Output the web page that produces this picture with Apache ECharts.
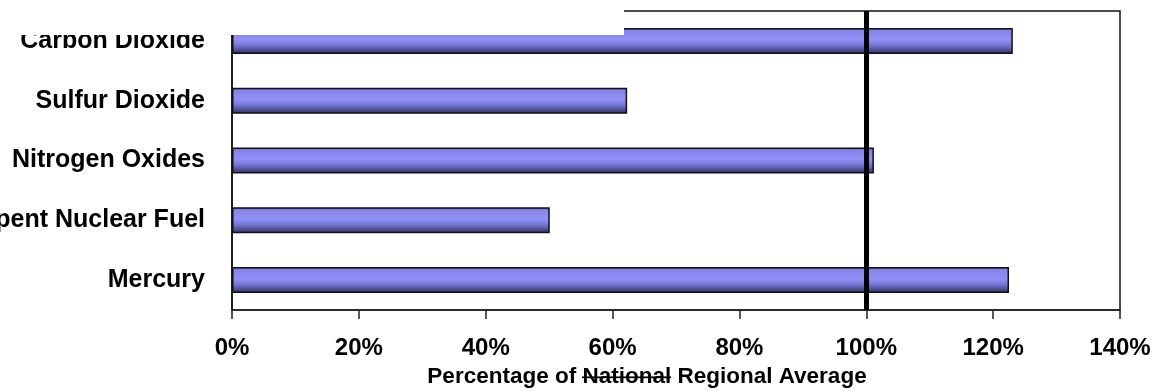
<!DOCTYPE html>
<html>
<head>
<meta charset="utf-8">
<style>
  html, body { margin: 0; padding: 0; background: #ffffff; }
  #chart { width: 1159px; height: 391px; }
</style>
<script src="https://cdn.jsdelivr.net/npm/echarts@6/dist/echarts.min.js"></script>
</head>
<body>
<div id="chart"></div>
<script>
// Emission categories, top to bottom
const categories = ['Carbon Dioxide', 'Sulfur Dioxide', 'Nitrogen Oxides', 'Spent Nuclear Fuel', 'Mercury'];
// Percentage of the regional average for each category
const percentValues = [123.1, 62.3, 101.2, 50.1, 122.5];
// X axis ticks (percent)
const tickValues = [0, 20, 40, 60, 80, 100, 120, 140];
// Reference line at the average
const referenceLevel = 100;

const FONT = '"Liberation Sans", Arial, sans-serif';

// Small transparent image with a horizontal stroke, stretched behind a text
// run to give it a strikethrough.
function strikeImage() {
  const c = document.createElement('canvas');
  c.width = 40; c.height = 26;
  const g = c.getContext('2d');
  g.fillStyle = '#000000';
  g.fillRect(0, 13, 40, 2);
  return c;
}

const chart = echarts.init(document.getElementById('chart'), null, { renderer: 'canvas' });

// Shaded, tube-like bar fill: light lavender on top, darkening to navy below
const barGradient = new echarts.graphic.LinearGradient(0, 0, 0, 1, [
  { offset: 0.00, color: '#4a4a90' },
  { offset: 0.10, color: '#8484e8' },
  { offset: 0.45, color: '#9090f6' },
  { offset: 0.62, color: '#7e7ee0' },
  { offset: 0.76, color: '#6262b8' },
  { offset: 0.88, color: '#484888' },
  { offset: 1.00, color: '#2c2c55' }
]);

const titleStyle = { color: '#000000', fontFamily: FONT, fontWeight: 'bold', fontSize: 22.5 };

chart.setOption({
  animation: false,
  backgroundColor: '#ffffff',
  grid: {
    left: 232, right: 39, top: 11, bottom: 81,
    containLabel: false,
    outerBoundsMode: 'none',
    show: true, borderColor: '#111111', borderWidth: 1.5, backgroundColor: 'transparent'
  },
  xAxis: {
    type: 'value',
    min: tickValues[0],
    max: tickValues[tickValues.length - 1],
    interval: tickValues[1] - tickValues[0],
    splitLine: { show: false },
    axisLine: { show: true, lineStyle: { color: '#222222', width: 1.5 } },
    axisTick: { show: true, inside: false, length: 9, lineStyle: { color: '#222222', width: 1.5 } },
    axisLabel: {
      margin: 26,
      color: '#000000',
      fontFamily: FONT,
      fontWeight: 'bold',
      fontSize: 24,
      formatter: v => v + '%'
    },
    name: '{t|Percentage of }{s|National}{t| Regional Average}',
    nameLocation: 'middle',
    nameGap: 54,
    nameTextStyle: Object.assign({}, titleStyle, {
      padding: [0, 58, 0, 0],
      rich: {
        t: Object.assign({}, titleStyle),
        s: Object.assign({}, titleStyle, { backgroundColor: { image: strikeImage() } })
      }
    })
  },
  yAxis: {
    type: 'category',
    data: categories,
    inverse: true,
    axisLine: { show: true, lineStyle: { color: '#111111', width: 1.5 } },
    axisTick: { show: false },
    splitLine: { show: false },
    axisLabel: {
      margin: 27,
      color: '#000000',
      fontFamily: FONT,
      fontWeight: 'bold',
      fontSize: 25
    }
  },
  series: [{
    type: 'bar',
    data: percentValues,
    barWidth: 26,
    itemStyle: {
      color: barGradient,
      borderColor: '#111111',
      borderWidth: 1.5
    },
    markLine: {
      silent: true,
      symbol: 'none',
      label: { show: false },
      lineStyle: { color: '#000000', width: 5, type: 'solid' },
      data: [{ xAxis: referenceLevel }]
    }
  }],
  graphic: [{
    type: 'rect',
    z: 100,
    shape: { x: 0, y: 0, width: 624, height: 35 },
    style: { fill: '#ffffff' }
  }]
});
</script>
</body>
</html>
